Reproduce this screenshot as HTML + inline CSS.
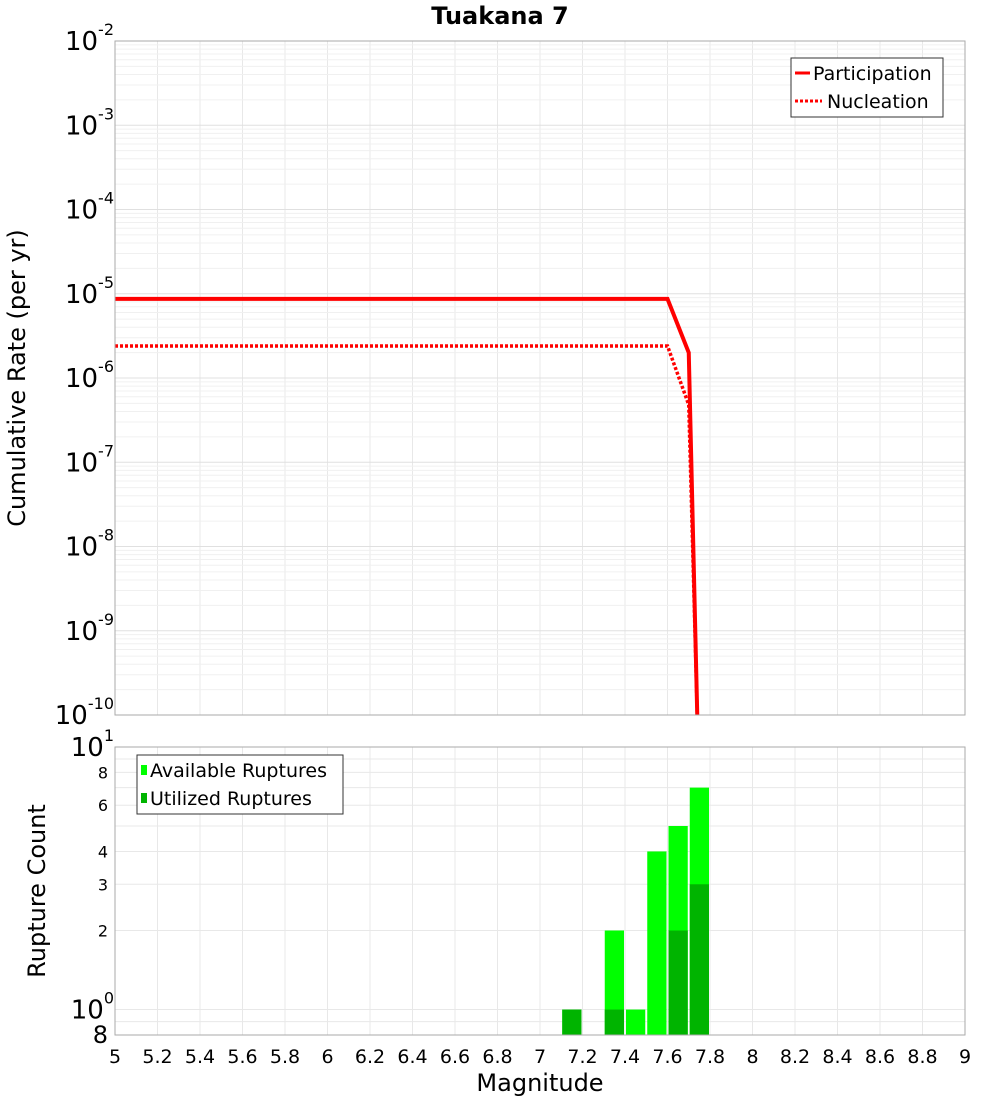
<!DOCTYPE html>
<html><head><meta charset="utf-8"><style>
body{margin:0;background:#fff;}
svg{display:block;font-family:"DejaVu Sans","Liberation Sans",sans-serif;}
</style></head><body>
<svg id="chart" width="1000" height="1100" xmlns="http://www.w3.org/2000/svg">
<text x="500" y="24" text-anchor="middle" font-size="24" font-weight="bold">Tuakana 7</text>
<g id="grid"></g>
<g id="marks"></g>
<rect x="115" y="41" width="850" height="674" fill="none" stroke="#aaa"/>
<rect x="115" y="747" width="850" height="288" fill="none" stroke="#aaa"/>
<g id="ticks"></g>
<text transform="translate(25,378) rotate(-90)" text-anchor="middle" font-size="24">Cumulative Rate (per yr)</text>
<text transform="translate(45,891) rotate(-90)" text-anchor="middle" font-size="24">Rupture Count</text>
<text x="540" y="1091" text-anchor="middle" font-size="24">Magnitude</text>
<g>
<rect x="791" y="58" width="152" height="59" fill="#fff" stroke="#333"/>
<line x1="795" y1="73" x2="810" y2="73" stroke="#f00" stroke-width="3"/>
<text x="813" y="80" font-size="19">Participation</text>
<line x1="795" y1="101" x2="822" y2="101" stroke="#f00" stroke-width="3" stroke-dasharray="3,2"/>
<text x="827" y="108" font-size="19">Nucleation</text>
</g>
<g>
<rect x="137" y="755" width="206" height="59" fill="#fff" stroke="#333"/>
<rect x="141" y="765" width="6" height="10" fill="#00ff00"/>
<text x="150" y="777" font-size="19">Available Ruptures</text>
<rect x="141" y="793" width="6" height="10" fill="#00b400"/>
<text x="150" y="805" font-size="19">Utilized Ruptures</text>
</g>
</svg>
<script>
const partMags=[5,7.6,7.7,7.74];
const partRates=[8.7e-6,8.7e-6,2.0e-6,1e-10];
const nuclMags=[5,7.6,7.7,7.74];
const nuclRates=[2.4e-6,2.4e-6,4.8e-7,1e-10];
const binMags=[7.15,7.35,7.45,7.55,7.65,7.75];
const availCounts=[1,2,1,4,5,7];
const utilCounts=[1,1,0,0,2,3];
const xTicks=[5,5.2,5.4,5.6,5.8,6,6.2,6.4,6.6,6.8,7,7.2,7.4,7.6,7.8,8,8.2,8.4,8.6,8.8,9];
const topExps=[-10,-9,-8,-7,-6,-5,-4,-3,-2];
const botTicks=[2,3,4,6,8];

const NS="http://www.w3.org/2000/svg";
const X=m=>115+(m-5)*212.5;
const Yt=v=>715-(Math.log10(v)+10)*84.25;
const Yb=v=>1035-(Math.log10(v)-Math.log10(0.8))*262.6;
function mk(p,tag,a){const e=document.createElementNS(NS,tag);for(const k in a)e.setAttribute(k,a[k]);document.getElementById(p).appendChild(e);return e;}

for(let m=5;m<=9.001;m+=0.2){const l=mk('grid','line',{x1:X(m),x2:X(m),y1:41,y2:715,stroke:'#e8e8e8'});


const l2=mk('grid','line',{x1:X(m),x2:X(m),y1:747,y2:1035,stroke:'#e8e8e8'});

}
for(let e=-10;e<-2;e++)for(let k=1;k<10;k++){const y=Yt(k*Math.pow(10,e));
const l=mk('grid','line',{x1:115,x2:965,y1:y,y2:y,stroke:k==1?'#e0e0e0':'#f0f0f0'});

}
[0.8,0.9,1,2,3,4,5,6,7,8,9,10].forEach(v=>{const l=mk('grid','line',{x1:115,x2:965,y1:Yb(v),y2:Yb(v),stroke:'#e8e8e8'});

});

const pp=mk('marks','polyline',{points:partMags.map((m,i)=>X(m)+','+Yt(partRates[i])).join(' '),fill:'none',stroke:'#f00','stroke-width':4});


const np=mk('marks','polyline',{points:nuclMags.map((m,i)=>X(m)+','+Yt(nuclRates[i])).join(' '),fill:'none',stroke:'#f00','stroke-width':3.5,'stroke-dasharray':'3,2'});



binMags.forEach((m,i)=>{const x0=X(m-0.05)+1,w=212.5*0.1-2;
if(availCounts[i]>0){const y=Yb(availCounts[i]);const r=mk('marks','rect',{x:x0,y:y,width:w,height:1035-y,fill:'#00ff00'});

}
if(utilCounts[i]>0){const y=Yb(utilCounts[i]);const r=mk('marks','rect',{x:x0,y:y,width:w,height:1035-y,fill:'#00b400'});

}});

xTicks.forEach(m=>{const t=mk('ticks','text',{x:X(m),y:1063,'text-anchor':'middle','font-size':19});t.textContent=String(m);

});
function pow(y,e,g){const t=mk('ticks','text',{x:114,y:y+9,'text-anchor':'end','font-size':26});
t.innerHTML='10<tspan dy="-15" font-size="16">'+e+'</tspan>';

}
topExps.forEach(e=>pow(Yt(Math.pow(10,e)),e,'top-y-tick-label'));
pow(Yb(1),0,'bottom-y-tick-label');pow(Yb(10),1,'bottom-y-tick-label');
botTicks.forEach(v=>{const t=mk('ticks','text',{x:108,y:Yb(v)+6,'text-anchor':'end','font-size':16});t.textContent=v;

});
const t8=mk('ticks','text',{x:108,y:1043,'text-anchor':'end','font-size':24});t8.textContent='8';


</script>
</body></html>
